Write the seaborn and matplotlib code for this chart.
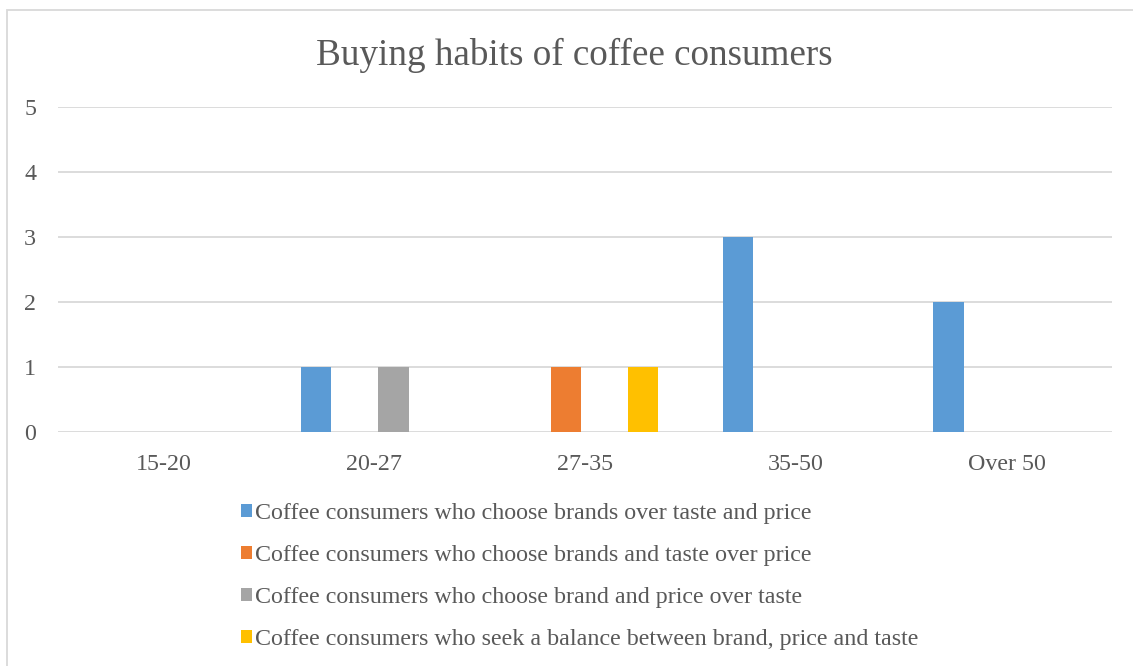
import numpy as np
import pandas as pd
import seaborn as sns
import matplotlib.pyplot as plt
from matplotlib.patches import Patch, Rectangle

age_groups = ['15-20', '20-27', '27-35', '35-50', 'Over 50']
series_names = [
    'Coffee consumers who choose brands over taste and price',
    'Coffee consumers who choose brands and taste over price',
    'Coffee consumers who choose brand and price over taste',
    'Coffee consumers who seek a balance between brand, price and taste',
]
brands_only = [0, 1, 0, 3, 2]
brands_taste = [0, 0, 1, 0, 0]
brand_price = [0, 1, 0, 0, 0]
balance = [0, 0, 1, 0, 0]
colors = ['#5B9BD5', '#ED7D31', '#A5A5A5', '#FFC000']

rows = []
for name, vals in zip(series_names, [brands_only, brands_taste, brand_price, balance]):
    for group, v in zip(age_groups, vals):
        rows.append({'age': group, 'series': name, 'count': v})
df = pd.DataFrame(rows)

sns.set_style('white')
plt.rcParams['font.family'] = ['Liberation Serif', 'DejaVu Serif']
text_color = '#595959'

W, H = 1133, 666
fig = plt.figure(figsize=(W / 100, H / 100), dpi=100)
ax = fig.add_axes([58 / W, (H - 432) / H, (1112 - 58) / W, (432 - 107) / H])

sns.barplot(data=df, x='age', y='count', hue='series', hue_order=series_names,
            order=age_groups, palette=colors, width=0.735, gap=0.22,
            saturation=1, linewidth=0, legend=False, ax=ax)

ax.set_ylim(0, 5)
ax.set_xlim(-0.5, len(age_groups) - 0.5)
ax.set_yticks(range(6))
ax.yaxis.grid(True, color='#D9D9D9', linewidth=1.3)
ax.set_axisbelow(True)
for s in ax.spines.values():
    s.set_visible(False)
ax.tick_params(axis='both', length=0, labelsize=17.3, labelcolor=text_color)
for lbl in ax.get_yticklabels():
    lbl.set_horizontalalignment('center')
ax.tick_params(axis='y', pad=20)
ax.tick_params(axis='x', pad=16)
ax.set_xlabel('')
ax.set_ylabel('')

fig.text(574 / W, 1 - 55 / H, 'Buying habits of coffee consumers', ha='center',
         va='center', fontsize=26.7, color=text_color)

handles = [Patch(facecolor=c, edgecolor='none') for c in colors]
fig.legend(handles, series_names, loc='upper left',
           bbox_to_anchor=(241 / W, 1 - 503 / H), frameon=False,
           borderpad=0, borderaxespad=0,
           fontsize=17.3, labelcolor=text_color, handlelength=0.45,
           handleheight=0.45, handletextpad=0.15, labelspacing=0.875)

fig.patches.append(Rectangle((7 / W, -0.1), 1.2, 1 - 10 / H + 0.1,
                             transform=fig.transFigure, fill=False,
                             edgecolor='#D9D9D9', linewidth=1.3))

fig.savefig('out.png', dpi=100)
